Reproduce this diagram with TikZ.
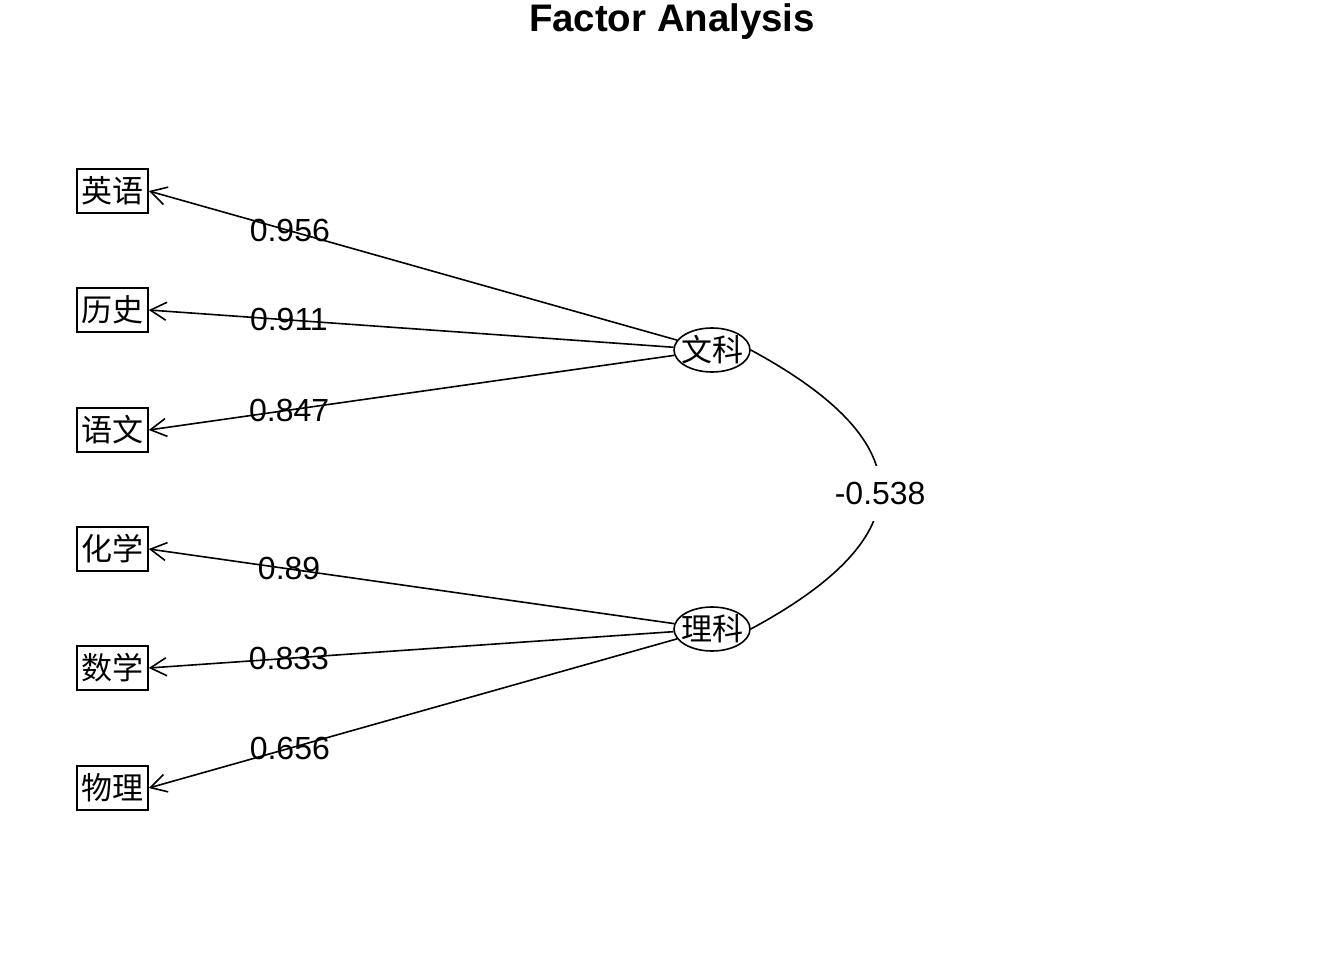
\documentclass[tikz,border=0pt]{standalone}
\usepackage{fontspec}
\setmainfont{Liberation Sans}
\newfontfamily\cjk{Noto Sans CJK SC}
\usetikzlibrary{shapes.geometric,arrows.meta}
\tikzset{
  cjkfont/.style={font=\cjk\fontsize{31}{36}\selectfont},
  varbox/.style={draw, line width=1.6pt, rectangle, minimum width=71pt, minimum height=44pt, inner sep=0pt, cjkfont},
  factor/.style={draw, line width=1.6pt, ellipse, minimum width=76pt, minimum height=44pt, inner sep=0pt},
  load/.style={line width=1.6pt, -{Straight Barb[length=16pt,width=18pt,line width=1.6pt]}},
  lbl/.style={inner sep=0pt, font=\fontsize{32}{38}\selectfont},
}
\begin{document}
\begin{tikzpicture}[x=1pt,y=-1pt]
\useasboundingbox[fill=white] (0,0) rectangle (1344,960);
\node[anchor=base, font=\bfseries\fontsize{38.4}{46}\selectfont] (title) at (672,32) {Factor Analysis};
\node[varbox] (ying) at (112.5,191) {英语};
\node[varbox] (lishi) at (112.5,310) {历史};
\node[varbox] (yuwen) at (112.5,430) {语文};
\node[varbox] (huaxue) at (112.5,549) {化学};
\node[varbox] (shuxue) at (112.5,668) {数学};
\node[varbox] (wuli) at (112.5,788) {物理};
\node[factor, label={[cjkfont, inner sep=0pt]center:文科}] (wen) at (712,350) {};
\node[factor, label={[cjkfont, inner sep=0pt]center:理科}] (li) at (712,629) {};
\draw[load] (wen) -- node[lbl, pos=0.733] {0.956} (ying.east);
\draw[load] (wen) -- node[lbl, pos=0.733] {0.911} (lishi.east);
\draw[load] (wen) -- node[lbl, pos=0.733] {0.847} (yuwen.east);
\draw[load] (li) -- node[lbl, pos=0.733] {0.89} (huaxue.east);
\draw[load] (li) -- node[lbl, pos=0.733] {0.833} (shuxue.east);
\draw[load] (li) -- node[lbl, pos=0.733] {0.656} (wuli.east);
\draw[line width=1.6pt] (wen.east) .. controls (923.3,443.3) and (923.3,536.2) .. node[lbl, fill=white, inner ysep=16pt, inner xsep=2pt, pos=0.5, yshift=-3.5pt] (r) {-0.538} (li.east);
\end{tikzpicture}
\end{document}
